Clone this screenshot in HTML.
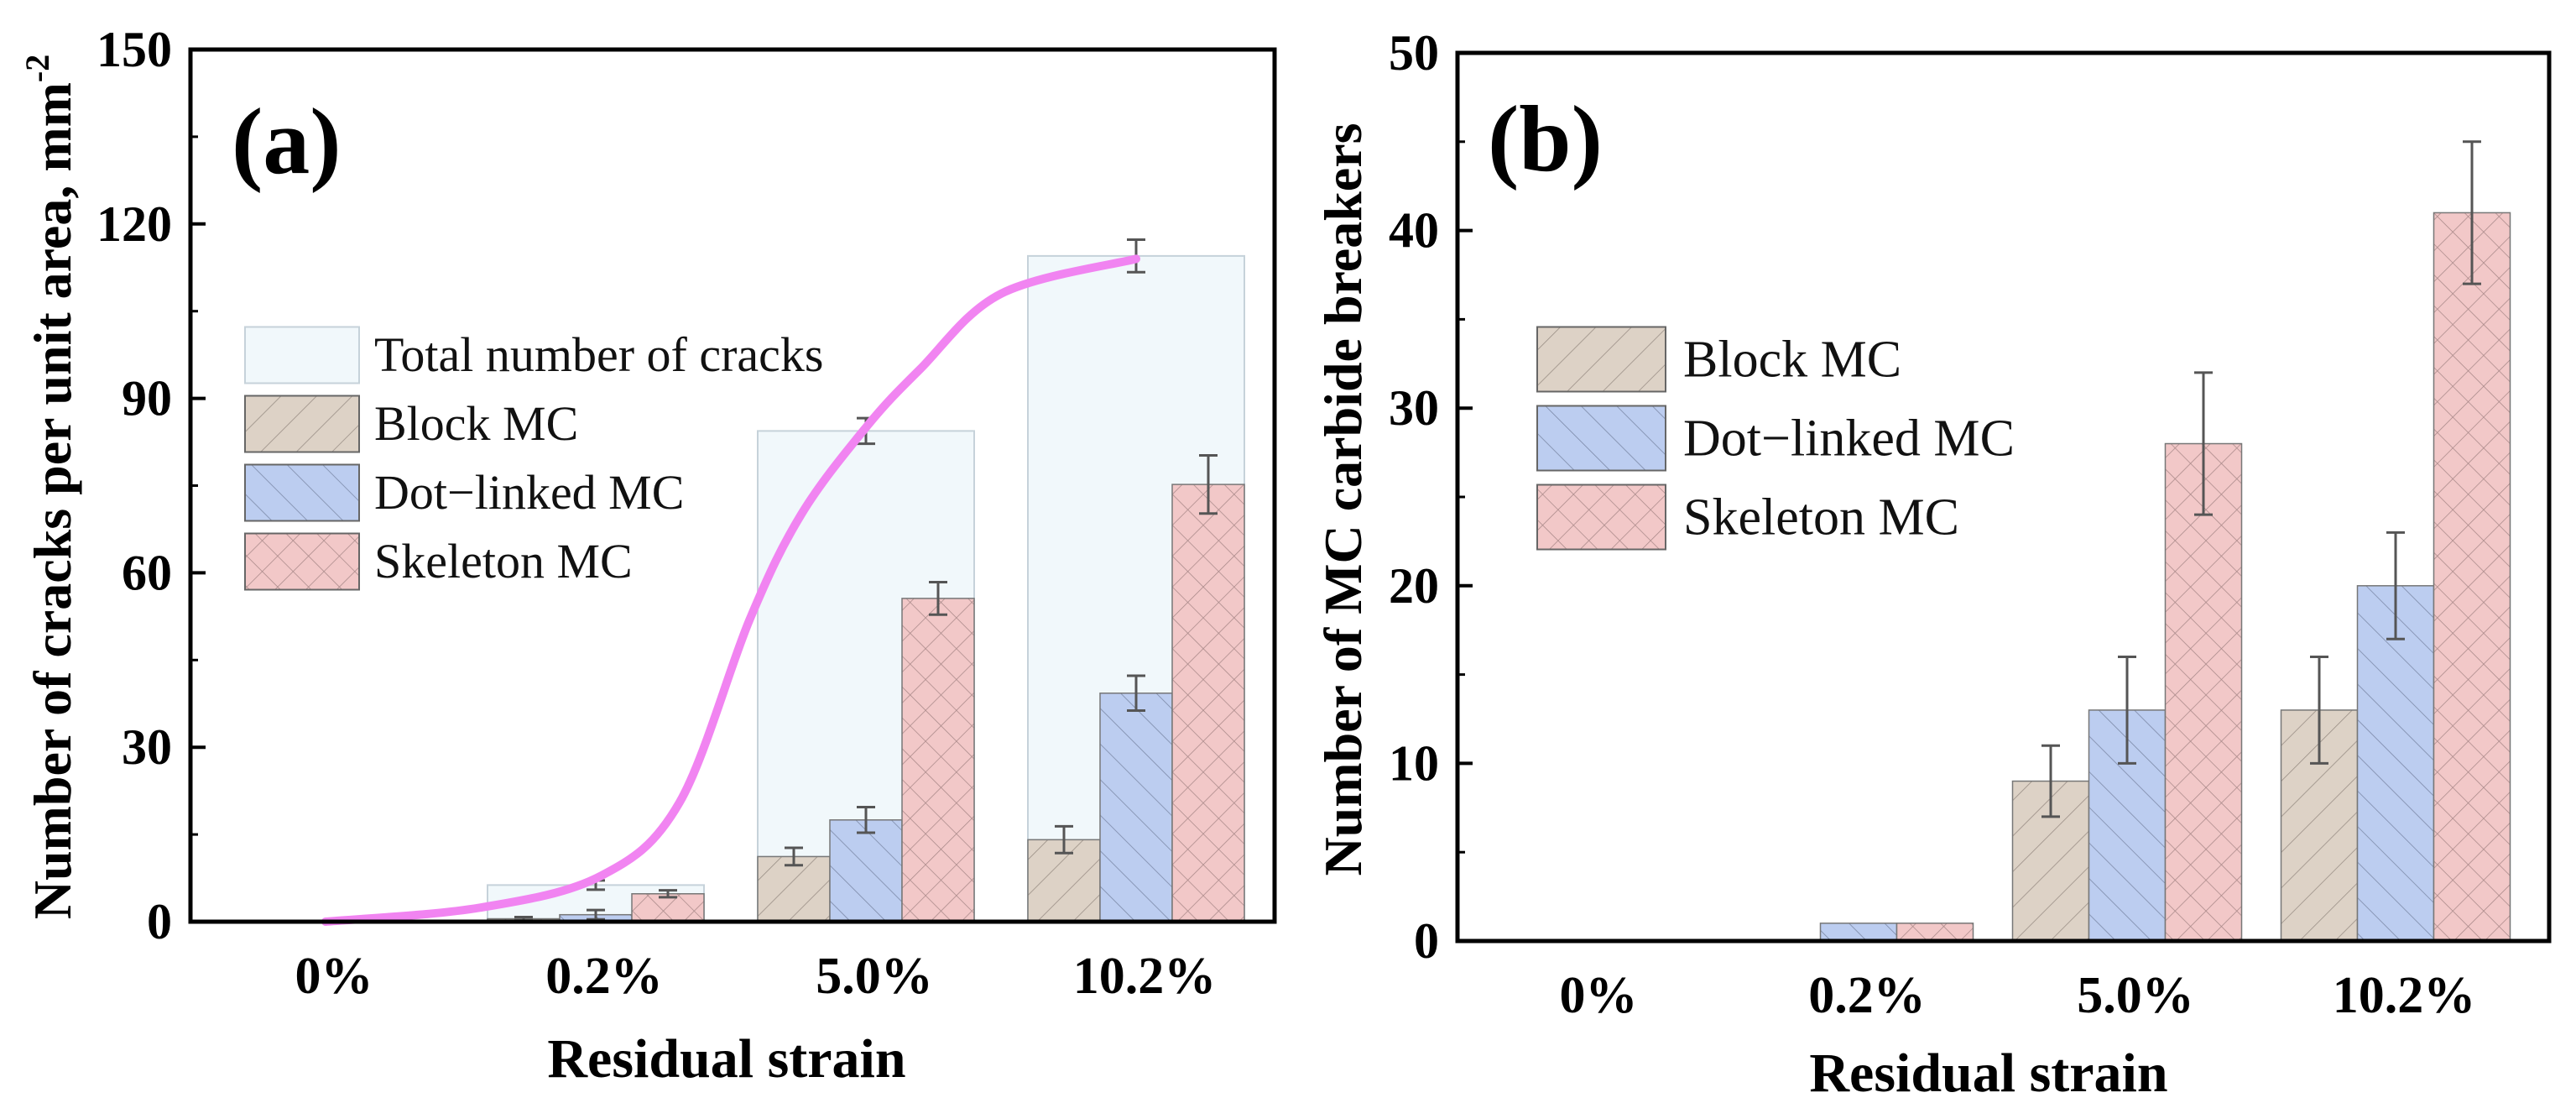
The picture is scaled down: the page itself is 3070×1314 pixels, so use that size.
<!DOCTYPE html>
<html><head><meta charset="utf-8"><style>
html,body{margin:0;padding:0;background:#fff;}
svg{display:block;font-family:"Liberation Serif",serif;}
</style></head><body>
<svg id="chart" width="3070" height="1314" viewBox="0 0 3070 1314" xmlns="http://www.w3.org/2000/svg">
<defs>
<pattern id="hBlock" patternUnits="userSpaceOnUse" width="30" height="30" patternTransform="rotate(45)">
<rect width="30" height="30" fill="#ddd2c6"/><line x1="0" y1="0" x2="0" y2="30" stroke="#9a8f86" stroke-width="1.6"/></pattern>
<pattern id="hDot" patternUnits="userSpaceOnUse" width="30" height="30" patternTransform="rotate(-45)">
<rect width="30" height="30" fill="#bccdf0"/><line x1="0" y1="0" x2="0" y2="30" stroke="#7d8aa8" stroke-width="1.6"/></pattern>
<pattern id="hSkel" patternUnits="userSpaceOnUse" width="26" height="26" patternTransform="rotate(45)">
<rect width="26" height="26" fill="#f2c8c8"/><line x1="0" y1="0" x2="0" y2="26" stroke="#a88888" stroke-width="1.5"/><line x1="0" y1="0" x2="26" y2="0" stroke="#a88888" stroke-width="1.5"/></pattern>
</defs>
<g id="pa"></g>
<g id="pb"></g>
</svg>
<script>
const categories = ["0%","0.2%","5.0%","10.2%"];
// Panel a
const aTotal = [0, 6.3, 84.4, 114.5];
const aTotalErr = [0, 0.8, 2.2, 2.8];
const aBlock = [0, 0.5, 11.2, 14.1];
const aBlockErr = [0, 0.3, 1.5, 2.3];
const aDot = [0, 1.2, 17.5, 39.3];
const aDotErr = [0, 0.8, 2.2, 3.0];
const aSkel = [0, 4.8, 55.6, 75.2];
const aSkelErr = [0, 0.6, 2.8, 5.0];
const aTicks = [0, 30, 60, 90, 120, 150];
const curveX = [0, 0.57, 1.02, 1.31, 1.57, 1.76, 2.0, 2.2, 2.5, 3.0];
const curveY = [0, 2.4, 7.9, 20.5, 52, 70, 85, 95, 108, 114];
// Panel b
const bBlock = [0, 0, 9, 13];
const bBlockErr = [0, 0, 2, 3];
const bDot = [0, 1, 13, 20];
const bDotErr = [0, 0, 3, 3];
const bSkel = [0, 1, 28, 41];
const bSkelErr = [0, 0, 4, 4];
const bTicks = [0, 10, 20, 30, 40, 50];

const NS = "http://www.w3.org/2000/svg";
function mk(parent, tag, attrs, text){
  const e = document.createElementNS(NS, tag);
  for (const k in attrs) e.setAttribute(k, attrs[k]);
  if (text !== undefined) e.textContent = text;
  parent.appendChild(e);
  return e;
}

function drawPanel(g, cfg){
  const {L,T,R,B,max,x0,dx,bw,ticks} = cfg;
  const y = v => B - v/max*(B-T);
  const xc = i => x0 + i*dx;
  ticks.forEach((t,i)=>{
    const tl = mk(g,'text',{x:L-22,y:y(t)+20,'text-anchor':'end','font-size':60,'font-weight':'bold'},String(t));
    
    
    if (i>0){
      const tk = mk(g,'line',{x1:L,x2:L+18,y1:y(t),y2:y(t),stroke:'#000','stroke-width':4});
      
      
      const m = (ticks[i-1]+t)/2;
      const mt = mk(g,'line',{x1:L,x2:L+9,y1:y(m),y2:y(m),stroke:'#000','stroke-width':3});
      
      
    }
  });
  categories.forEach((c,i)=>{
    const t = mk(g,'text',{x:xc(i)+cfg.lblOff,y:cfg.lblY,'text-anchor':'middle','font-size':62,'font-weight':'bold'},c);
    
    
  });
  return {y,xc};
}

function bars(g, s, vals, errs, fill, off, name, bw){
  vals.forEach((v,i)=>{
    if (v<=0) return;
    const x = s.xc(i)+off*bw - bw/2;
    const r = mk(g,'rect',{x:x,y:s.y(v),width:bw,height:s.y(0)-s.y(v),fill:fill,stroke:'#777','stroke-width':1.5});
    
    
    if (errs[i]>0) errbar(g,s,x+bw/2,v,errs[i]);
  });
}
function errbar(g,s,cx,v,e){
  const eg = mk(g,'g',{stroke:'#555','stroke-width':3});
  
  
  mk(eg,'line',{x1:cx,x2:cx,y1:s.y(v+e),y2:s.y(v-e)});
  mk(eg,'line',{x1:cx-11,x2:cx+11,y1:s.y(v+e),y2:s.y(v+e)});
  mk(eg,'line',{x1:cx-11,x2:cx+11,y1:s.y(v-e),y2:s.y(v-e)});
}
function legend(g, items, bx, bw, bh, y0, dy, tx, fs){
  items.forEach((it,i)=>{
    const cy = y0 + i*dy;
    const lg = mk(g,'g',{});
    
    
    mk(lg,'rect',{x:bx,y:cy-bh/2,width:bw,height:bh,fill:it[0],stroke:it[3]||'#666','stroke-width':2});
    mk(lg,'text',{x:tx,y:cy+fs*0.33,'font-size':fs,fill:'#111'},it[1]);
  });
}

// ---- Panel a
const pa = document.getElementById('pa');
const A = {L:227,T:59,R:1519,B:1098,max:150,x0:388,dx:322,bw:86,ticks:aTicks,lblOff:10,lblY:1183};
const sa = drawPanel(pa, A);
aTotal.forEach((v,i)=>{
  if (v<=0) return;
  const r = mk(pa,'rect',{x:sa.xc(i)-A.bw*1.5,y:sa.y(v),width:A.bw*3,height:sa.y(0)-sa.y(v),fill:'#f1f8fb',stroke:'#c6d2da','stroke-width':2});
  
  
});
bars(pa,sa,aBlock,aBlockErr,'url(#hBlock)',-1,'block',A.bw);
bars(pa,sa,aDot,aDotErr,'url(#hDot)',0,'dot-linked',A.bw);
bars(pa,sa,aSkel,aSkelErr,'url(#hSkel)',1,'skeleton',A.bw);
aTotal.forEach((v,i)=>{ if (aTotalErr[i]>0) errbar(pa,sa,sa.xc(i),v,aTotalErr[i]); });
(function(){
  const P = curveX.map((cx,i)=>[A.x0+cx*A.dx, sa.y(curveY[i])]);
  let d = 'M'+P[0][0]+','+P[0][1];
  for (let i=0;i<P.length-1;i++){
    const p0=P[Math.max(0,i-1)],p1=P[i],p2=P[i+1],p3=P[Math.min(P.length-1,i+2)];
    const c1=[p1[0]+(p2[0]-p0[0])/6,p1[1]+(p2[1]-p0[1])/6];
    const c2=[p2[0]-(p3[0]-p1[0])/6,p2[1]-(p3[1]-p1[1])/6];
    d+=' C'+c1[0]+','+c1[1]+' '+c2[0]+','+c2[1]+' '+p2[0]+','+p2[1];
  }
  const c = mk(pa,'path',{d:d,fill:'none',stroke:'#f184f1','stroke-width':10,'stroke-linecap':'round'});
  
  
})();
const fa = mk(pa,'rect',{x:A.L,y:A.T,width:A.R-A.L,height:A.B-A.T,fill:'none',stroke:'#000','stroke-width':5});


legend(pa,[['#f1f8fb','Total number of cracks','total','#c6d2da'],['url(#hBlock)','Block MC','block'],['url(#hDot)','Dot\u2212linked MC','dot-linked'],['url(#hSkel)','Skeleton MC','skeleton']],292,136,67,423,82,446,58);
const la = mk(pa,'text',{x:276,y:206,'font-size':112,'font-weight':'bold'},'(a)');


const xta = mk(pa,'text',{x:866,y:1283,'text-anchor':'middle','font-size':66,'font-weight':'bold'},'Residual strain');


const yta = mk(pa,'text',{x:0,y:0,'text-anchor':'middle','font-size':64,'font-weight':'bold',transform:'translate(84,580) rotate(-90)'});


yta.appendChild(document.createTextNode('Number of cracks per unit area, mm'));
mk(yta,'tspan',{'font-size':40,dy:-26},'-2');

// ---- Panel b
const pb = document.getElementById('pb');
const Bc = {L:1737,T:63,R:3038,B:1121,max:50,x0:1895,dx:320,bw:91,ticks:bTicks,lblOff:10,lblY:1206};
const sb = drawPanel(pb, Bc);
bars(pb,sb,bBlock,bBlockErr,'url(#hBlock)',-1,'block',Bc.bw);
bars(pb,sb,bDot,bDotErr,'url(#hDot)',0,'dot-linked',Bc.bw);
bars(pb,sb,bSkel,bSkelErr,'url(#hSkel)',1,'skeleton',Bc.bw);
const fb = mk(pb,'rect',{x:Bc.L,y:Bc.T,width:Bc.R-Bc.L,height:Bc.B-Bc.T,fill:'none',stroke:'#000','stroke-width':5});


legend(pb,[['url(#hBlock)','Block MC','block'],['url(#hDot)','Dot\u2212linked MC','dot-linked'],['url(#hSkel)','Skeleton MC','skeleton']],1832,153,77,428,94,2006,62);
const lb = mk(pb,'text',{x:1773,y:203,'font-size':112,'font-weight':'bold'},'(b)');


const xtb = mk(pb,'text',{x:2370,y:1300,'text-anchor':'middle','font-size':66,'font-weight':'bold'},'Residual strain');


const ytb = mk(pb,'text',{x:0,y:0,'text-anchor':'middle','font-size':64,'font-weight':'bold',transform:'translate(1622,595) rotate(-90)'},'Number of MC carbide breakers');


</script>
</body></html>
